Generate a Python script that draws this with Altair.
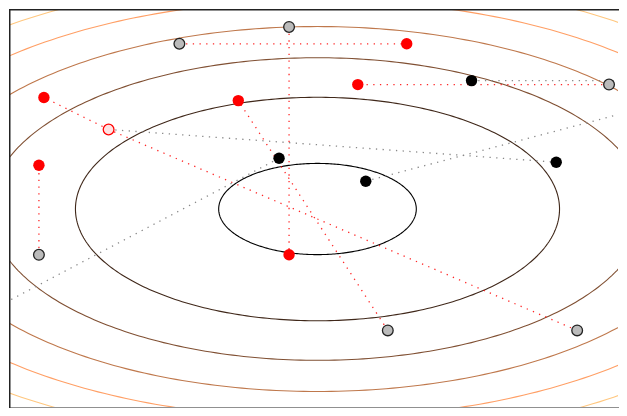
import numpy as np
import pandas as pd
import altair as alt

# contour function f(x, y) = x^2 + 2*y^2, drawn at these levels
levels = [0.4, 2.4, 4.4, 6.4, 8.4, 10.4, 12.4]
level_colors = ["#000000", "#40281a", "#805033", "#bf784c", "#ff9f65", "#ffc77f", "#ffc77f"]

# points (data coordinates)
gray_x = [-0.884, -0.182, 1.866, -1.783, 0.450, 1.662]
gray_y = [1.620, 1.785, 1.220, -0.449, -1.190, -1.190]
red_x = [0.571, -0.182, 0.258, -1.783, -0.507, -1.751]
red_y = [1.620, -0.449, 1.220, 0.429, 1.063, 1.093]
hollow_x = [-1.337]
hollow_y = [0.780]
black_x = [-0.246, 0.309, 0.986, 1.528]
black_y = [0.498, 0.273, 1.259, 0.459]
# far end points of guide lines (outside the view)
far_x = [-2.30, 2.313, 2.313]
far_y = [-1.161, 1.083, 1.259]

pts = {}
for i, (x, y) in enumerate(zip(gray_x, gray_y)):
    pts[f"G{i+1}"] = (x, y)
for i, (x, y) in enumerate(zip(red_x, red_y)):
    pts[f"R{i+1}"] = (x, y)
pts["H"] = (hollow_x[0], hollow_y[0])
for i, (x, y) in enumerate(zip(black_x, black_y)):
    pts[f"B{i+1}"] = (x, y)
for i, (x, y) in enumerate(zip(far_x, far_y)):
    pts[f"E{i+1}"] = (x, y)

red_segments = [("G1", "R1"), ("G2", "R2"), ("G3", "R3"), ("G4", "R4"),
                ("G5", "R5"), ("G6", "H"), ("H", "R6")]
gray_segments = [("H", "B4"), ("B1", "E1"), ("B2", "E2"), ("B3", "E3")]

# contour table
rows = []
t = np.linspace(0, 2 * np.pi, 361)
for L in levels:
    a, b = np.sqrt(L), np.sqrt(L / 2)
    for k, tt in enumerate(t):
        rows.append({"level": L, "i": k, "x": a * np.cos(tt), "y": b * np.sin(tt)})
contours = pd.DataFrame(rows)

def seg_df(segs):
    r = []
    for j, (p, q) in enumerate(segs):
        for k, name in enumerate((p, q)):
            r.append({"seg": j, "i": k, "x": pts[name][0], "y": pts[name][1]})
    return pd.DataFrame(r)

W, H = 611, 400
xs = alt.Scale(domain=[-1.9745, 1.9234], nice=False, zero=False)
ys = alt.Scale(domain=[-1.941, 1.961], nice=False, zero=False)
X = lambda: alt.X("x:Q", scale=xs, axis=None)
Y = lambda: alt.Y("y:Q", scale=ys, axis=None)

contour_layer = alt.Chart(contours).mark_line(clip=True, strokeWidth=1.1).encode(
    x=X(), y=Y(), order="i:Q", detail="level:N",
    color=alt.Color("level:O", scale=alt.Scale(domain=levels, range=level_colors), legend=None),
)

red_lines = alt.Chart(seg_df(red_segments)).mark_line(
    clip=True, color="#ff0000", strokeWidth=1.3, strokeDash=[1.3, 5.4], opacity=0.85
).encode(x=X(), y=Y(), order="i:Q", detail="seg:N")

gray_lines = alt.Chart(seg_df(gray_segments)).mark_line(
    clip=True, color="#888888", strokeWidth=1.3, strokeDash=[1.3, 5.4]
).encode(x=X(), y=Y(), order="i:Q", detail="seg:N")

def pdf(xl, yl):
    return pd.DataFrame({"x": xl, "y": yl})

gray_pts = alt.Chart(pdf(gray_x, gray_y)).mark_point(
    shape="circle", filled=True, fill="#bbbbbb", stroke="#222222", strokeWidth=1.3, size=115, opacity=1
).encode(x=X(), y=Y())

red_pts = alt.Chart(pdf(red_x, red_y)).mark_point(
    shape="circle", filled=True, fill="#ff0000", strokeWidth=0, size=130, opacity=1
).encode(x=X(), y=Y())

hollow_pts = alt.Chart(pdf(hollow_x, hollow_y)).mark_point(
    shape="circle", filled=True, fill="#ffe2e2", stroke="#ff0000", strokeWidth=1.3, size=115, opacity=1
).encode(x=X(), y=Y())

black_pts = alt.Chart(pdf(black_x, black_y)).mark_point(
    shape="circle", filled=True, fill="#000000", strokeWidth=0, size=130, opacity=1
).encode(x=X(), y=Y())

# frame on left, top and bottom only (right edge runs off the picture)
frame_style = dict(color="#222222", strokeWidth=1.5)
left_edge = alt.Chart().mark_rule(**frame_style).encode(
    x=alt.value(0.75), y=alt.value(0), y2=alt.value(H))
top_edge = alt.Chart().mark_rule(**frame_style).encode(
    x=alt.value(0), x2=alt.value(W), y=alt.value(0.75))
bottom_edge = alt.Chart().mark_rule(**frame_style).encode(
    x=alt.value(0), x2=alt.value(W), y=alt.value(H - 0.75))

chart = alt.layer(
    contour_layer, red_lines, gray_lines, gray_pts, red_pts, hollow_pts, black_pts,
    left_edge, top_edge, bottom_edge,
).properties(
    width=W, height=H,
    autosize=alt.AutoSizeParams(type="fit", contains="padding"),
    padding=0,
).configure_view(strokeWidth=0)

chart.save("out.html", embed_options={"renderer": "svg", "actions": False})
